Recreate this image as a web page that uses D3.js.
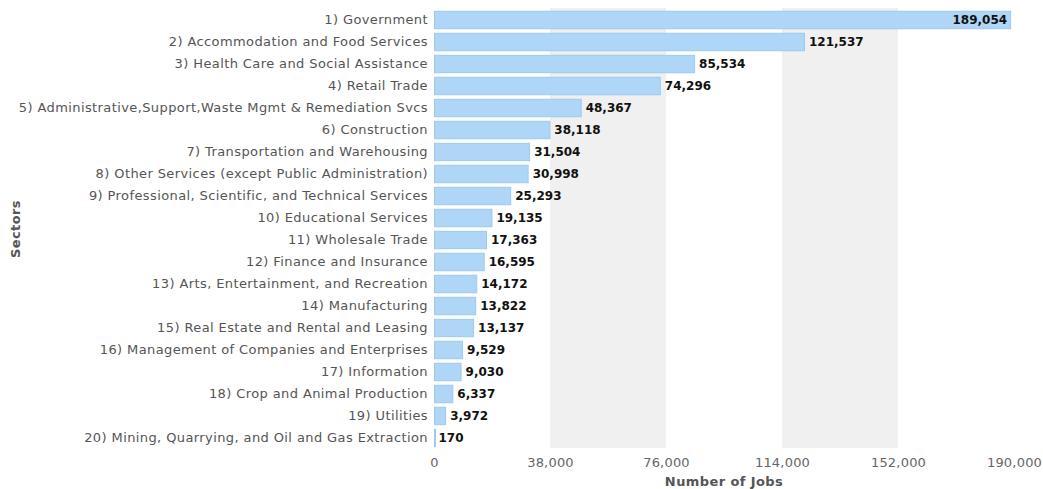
<!DOCTYPE html>
<html lang="en">
<head>
  <meta charset="UTF-8">
  <title>Jobs by Sector</title>
  <style>
    body {
      margin: 0;
      padding: 0;
      background-color: #ffffff;
    }
    svg { display: block; }
    svg text { font-family: 'DejaVu Sans', Verdana, sans-serif; }
    .tick text { fill: #666; font-size: 13px; letter-spacing: 0.2px; }
    .cat .tick text { fill: #555; font-size: 13px; letter-spacing: 0.4px; }
    .title { font-size: 13px; font-weight: bold; fill: #555; letter-spacing: 0.4px; }
  </style>
</head>
<body>

<svg></svg>

<script src="https://d3js.org/d3.v7.min.js"></script>
<script>
  const width = 1043, height = 489;

  const sectors = [
    "1) Government",
    "2) Accommodation and Food Services",
    "3) Health Care and Social Assistance",
    "4) Retail Trade",
    "5) Administrative,Support,Waste Mgmt & Remediation Svcs",
    "6) Construction",
    "7) Transportation and Warehousing",
    "8) Other Services (except Public Administration)",
    "9) Professional, Scientific, and Technical Services",
    "10) Educational Services",
    "11) Wholesale Trade",
    "12) Finance and Insurance",
    "13) Arts, Entertainment, and Recreation",
    "14) Manufacturing",
    "15) Real Estate and Rental and Leasing",
    "16) Management of Companies and Enterprises",
    "17) Information",
    "18) Crop and Animal Production",
    "19) Utilities",
    "20) Mining, Quarrying, and Oil and Gas Extraction"
  ];
  const jobs = [189054, 121537, 85534, 74296, 48367, 38118, 31504, 30998, 25293,
    19135, 17363, 16595, 14172, 13822, 13137, 9529, 9030, 6337, 3972, 170];
  const xTicks = [0, 38000, 76000, 114000, 152000, 190000];

  const margin = {left: 434, right: 29, top: 9, bottom: 40};

  const svg = d3.select("svg")
    .attr("width", width)
    .attr("height", height);

  const x = d3.scaleLinear()
    .domain([0, 190000])
    .range([margin.left, width - margin.right]);

  const y = d3.scaleBand()
    .domain(sectors)
    .range([margin.top, height - margin.bottom])
    .paddingInner(0.16)
    .paddingOuter(0.08);

  // alternating grey bands
  const bands = [];
  for (let i = 0; i < xTicks.length - 1; i++) {
    if (i % 2 === 1) bands.push([xTicks[i], xTicks[i + 1]]);
  }
  svg.append("g").selectAll("rect")
    .data(bands)
    .enter()
    .append("rect")
    .attr("x", d => x(d[0]))
    .attr("width", d => x(d[1]) - x(d[0]))
    .attr("y", margin.top - 1)
    .attr("height", height - margin.bottom - margin.top)
    .attr("fill", "#f0f0f0");

  // bars
  svg.append("g").selectAll("rect")
    .data(jobs)
    .enter()
    .append("rect")
    .attr("x", x(0) + 0.5)
    .attr("y", (d, i) => y(sectors[i]) + 0.5)
    .attr("width", d => Math.max(1, x(d) - x(0) - 1))
    .attr("height", y.bandwidth() - 1)
    .attr("fill", "#afd6f7")
    .attr("stroke", "#9ccaee")
    .attr("stroke-width", 1);

  // value labels
  svg.append("g").selectAll("text")
    .data(jobs)
    .enter()
    .append("text")
    .attr("x", d => d > 180000 ? x(d) - 4 : x(d) + 4)
    .attr("y", (d, i) => y(sectors[i]) + y.bandwidth() / 2)
    .attr("dy", "0.36em")
    .attr("text-anchor", d => d > 180000 ? "end" : "start")
    .attr("font-size", 12)
    .attr("font-weight", "bold")
    .attr("fill", "#111")
    .text(d => d3.format(",")(d));

  // category axis
  const yAxis = svg.append("g")
    .attr("class", "cat")
    .attr("transform", `translate(${margin.left},0)`)
    .call(d3.axisLeft(y).tickSize(0).tickPadding(6));
  yAxis.select(".domain").remove();

  // value axis
  const xAxis = svg.append("g")
    .attr("transform", `translate(0,${height - margin.bottom + 2})`)
    .call(d3.axisBottom(x).tickValues(xTicks).tickSize(0).tickPadding(7).tickFormat(d3.format(",")));
  xAxis.select(".domain").remove();

  svg.append("text")
    .attr("class", "title")
    .attr("x", (x(0) + x(190000)) / 2)
    .attr("y", height - 3)
    .attr("text-anchor", "middle")
    .text("Number of Jobs");

  svg.append("text")
    .attr("class", "title")
    .attr("transform", `translate(20,${(margin.top + height - margin.bottom) / 2}) rotate(-90)`)
    .attr("text-anchor", "middle")
    .text("Sectors");
</script>

</body>
</html>
